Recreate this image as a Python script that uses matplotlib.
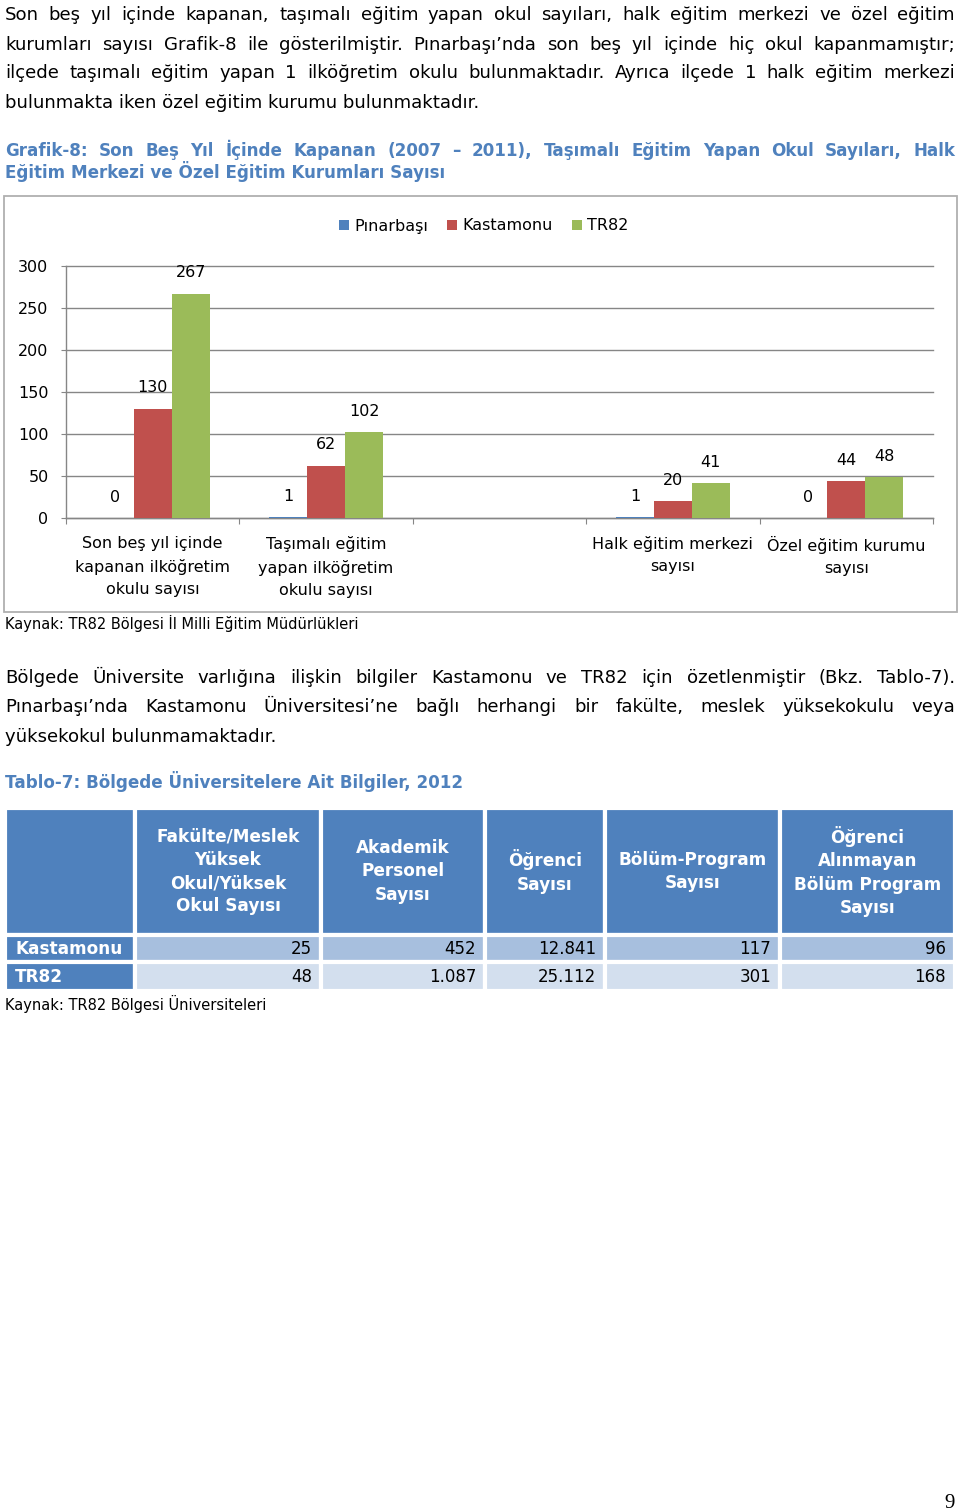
import numpy as np
import matplotlib
matplotlib.use('Agg')
import matplotlib.pyplot as plt
from matplotlib.patches import Rectangle
from matplotlib.table import Table

# Page text
para1 = ["Son beş yıl içinde kapanan, taşımalı eğitim yapan okul sayıları, halk eğitim merkezi ve özel eğitim",
         "kurumları sayısı Grafik-8 ile gösterilmiştir. Pınarbaşı’nda son beş yıl içinde hiç okul kapanmamıştır;",
         "ilçede taşımalı eğitim yapan 1 ilköğretim okulu bulunmaktadır. Ayrıca ilçede 1 halk eğitim merkezi",
         "bulunmakta iken özel eğitim kurumu bulunmaktadır."]
chart_title = ["Grafik-8: Son Beş Yıl İçinde Kapanan (2007 – 2011), Taşımalı Eğitim Yapan Okul Sayıları, Halk",
               "Eğitim Merkezi ve Özel Eğitim Kurumları Sayısı"]
para2 = ["Bölgede Üniversite varlığına ilişkin bilgiler Kastamonu ve TR82 için özetlenmiştir (Bkz. Tablo-7).",
         "Pınarbaşı’nda Kastamonu Üniversitesi’ne bağlı herhangi bir fakülte, meslek yüksekokulu veya",
         "yüksekokul bulunmamaktadır."]
table_title = "Tablo-7: Bölgede Üniversitelere Ait Bilgiler, 2012"
chart_source = "Kaynak: TR82 Bölgesi İl Milli Eğitim Müdürlükleri"
table_source = "Kaynak: TR82 Bölgesi Üniversiteleri"
page_number = "9"

# Chart data (the source chart keeps an empty third category)
categories = ["Son beş yıl içinde\nkapanan ilköğretim\nokulu sayısı",
              "Taşımalı eğitim\nyapan ilköğretim\nokulu sayısı",
              "",
              "Halk eğitim merkezi\nsayısı",
              "Özel eğitim kurumu\nsayısı"]
series_names = ["Pınarbaşı", "Kastamonu", "TR82"]
pinarbasi = [0, 1, np.nan, 1, 0]
kastamonu = [130, 62, np.nan, 20, 44]
tr82 = [267, 102, np.nan, 41, 48]
y_ticks = [0, 50, 100, 150, 200, 250, 300]

# Table data
uni_headers = ["Fakülte/Meslek\nYüksek\nOkul/Yüksek\nOkul Sayısı",
               "Akademik\nPersonel\nSayısı",
               "Öğrenci\nSayısı",
               "Bölüm-Program\nSayısı",
               "Öğrenci\nAlınmayan\nBölüm Program\nSayısı"]
uni_rows = ["Kastamonu", "TR82"]
kastamonu_uni = ["25", "452", "12.841", "117", "96"]
tr82_uni = ["48", "1.087", "25.112", "301", "168"]

colors = ['#4F81BD', '#C0504D', '#9BBB59']
blue_text = '#4F81BD'
grid_col = '#868686'

W, H = 960, 1511
fig = plt.figure(figsize=(W / 100, H / 100), dpi=100)
fig.patch.set_facecolor('white')
renderer = fig.canvas.get_renderer()


def fx(x):
    return x / W


def fy(y):
    return 1 - y / H


def put_line(text, x0, y, x1=None, **kw):
    # x1 given -> spread the words so the line is justified between x0 and x1
    if x1 is None:
        fig.text(fx(x0), fy(y), text, va='baseline', ha='left', **kw)
        return
    words = text.split(' ')
    items = [fig.text(0, fy(y), w, va='baseline', ha='left', **kw) for w in words]
    widths = [t.get_window_extent(renderer).width for t in items]
    gap = (x1 - x0 - sum(widths)) / (len(words) - 1)
    x = x0
    for t, w in zip(items, widths):
        t.set_x(fx(x))
        x += w + gap


body = dict(fontsize=13.1, color='black')
head = dict(fontsize=12.1, color=blue_text, fontweight='bold')

for i, (line, y) in enumerate(zip(para1, [20.5, 49.5, 78.5, 107.5])):
    put_line(line, 5, y, None if i == len(para1) - 1 else 955, **body)
for i, (line, y) in enumerate(zip(chart_title, [156, 178])):
    put_line(line, 5, y, None if i == len(chart_title) - 1 else 955, **head)
for i, (line, y) in enumerate(zip(para2, [683, 712.5, 742])):
    put_line(line, 5, y, None if i == len(para2) - 1 else 955, **body)
put_line(table_title, 5, 788, **head)

# Chart frame
fig.patches.append(Rectangle((fx(4), fy(612)), (957 - 4) / W, (612 - 196) / H,
                             transform=fig.transFigure, fill=False,
                             edgecolor='#B0B0B0', lw=1.3))

ax = fig.add_axes([fx(66), fy(517.7), (933 - 66) / W, (517.7 - 266) / H])
x = np.arange(len(categories))
width = 38 / 173.4
for i, (vals, name, c) in enumerate(zip([pinarbasi, kastamonu, tr82], series_names, colors)):
    bars = ax.bar(x + (i - 1) * width, vals, width, color=c, label=name, zorder=3)
    labels = ['' if np.isnan(v) else f'{v:g}' for v in vals]
    ax.bar_label(bars, labels=labels, padding=9.5, fontsize=11.5)

ax.set_xlim(-0.5, len(categories) - 0.5)
ax.set_ylim(0, 300)
ax.set_yticks(y_ticks)
ax.grid(axis='y', color=grid_col, lw=1, clip_on=False, zorder=0)
ax.set_xticks(np.arange(-0.5, len(categories), 1))
ax.set_xticklabels([])
ax.set_xticks(x, minor=True)
ax.set_xticklabels(categories, minor=True, fontsize=11.5, linespacing=1.58)
ax.tick_params(axis='x', which='minor', length=0, pad=13.5)
ax.tick_params(axis='x', which='major', length=4.3, color=grid_col)
ax.tick_params(axis='y', length=3.6, color=grid_col, pad=9, labelsize=11.5)
for s in ['top', 'right']:
    ax.spines[s].set_visible(False)
for s in ['left', 'bottom']:
    ax.spines[s].set_color(grid_col)
    ax.spines[s].set_linewidth(1)

ax.legend(loc='center', bbox_to_anchor=(fx(484), fy(226)), bbox_transform=fig.transFigure,
          ncol=3, frameon=False, fontsize=11.5, handlelength=0.6, handleheight=0.6,
          handletextpad=0.35, columnspacing=1.2, borderpad=0)

put_line(chart_source, 5, 629, fontsize=10.5)

# University table
tax = fig.add_axes([fx(5), fy(991), 950 / W, (991 - 808) / H])
tax.axis('off')
col_px = [130, 186, 164, 120, 175, 175]
row_px = [127, 27, 29]
tbl = Table(tax, bbox=[0, 0, 1, 1])
data_rows = [kastamonu_uni, tr82_uni]
row_fill = ['#A7BFDE', '#D3DFEE']
for r in range(3):
    for c in range(6):
        h = row_px[r] / sum(row_px)
        w = col_px[c] / sum(col_px)
        if r == 0:
            txt = '' if c == 0 else uni_headers[c - 1]
            cell = tbl.add_cell(r, c, w, h, text=txt, loc='center', facecolor=colors[0])
            cell.get_text().set(color='white', fontweight='bold', fontsize=12.2, linespacing=1.38)
        elif c == 0:
            cell = tbl.add_cell(r, c, w, h, text=uni_rows[r - 1], loc='left', facecolor=colors[0])
            cell.get_text().set(color='white', fontweight='bold', fontsize=12.2)
            cell.PAD = 10 / col_px[c]
        else:
            cell = tbl.add_cell(r, c, w, h, text=data_rows[r - 1][c - 1], loc='right',
                                facecolor=row_fill[r - 1])
            cell.get_text().set(color='black', fontsize=12)
            cell.PAD = 9 / col_px[c]
        cell.set_edgecolor('white')
        cell.set_linewidth(3)
tbl.auto_set_font_size(False)
tax.add_table(tbl)

put_line(table_source, 5, 1010, fontsize=10.5)

fig.text(fx(950), fy(1508), page_number, ha='center', va='baseline',
         fontsize=15, family='Liberation Serif')

fig.savefig('out.png', dpi=100, facecolor='white')
